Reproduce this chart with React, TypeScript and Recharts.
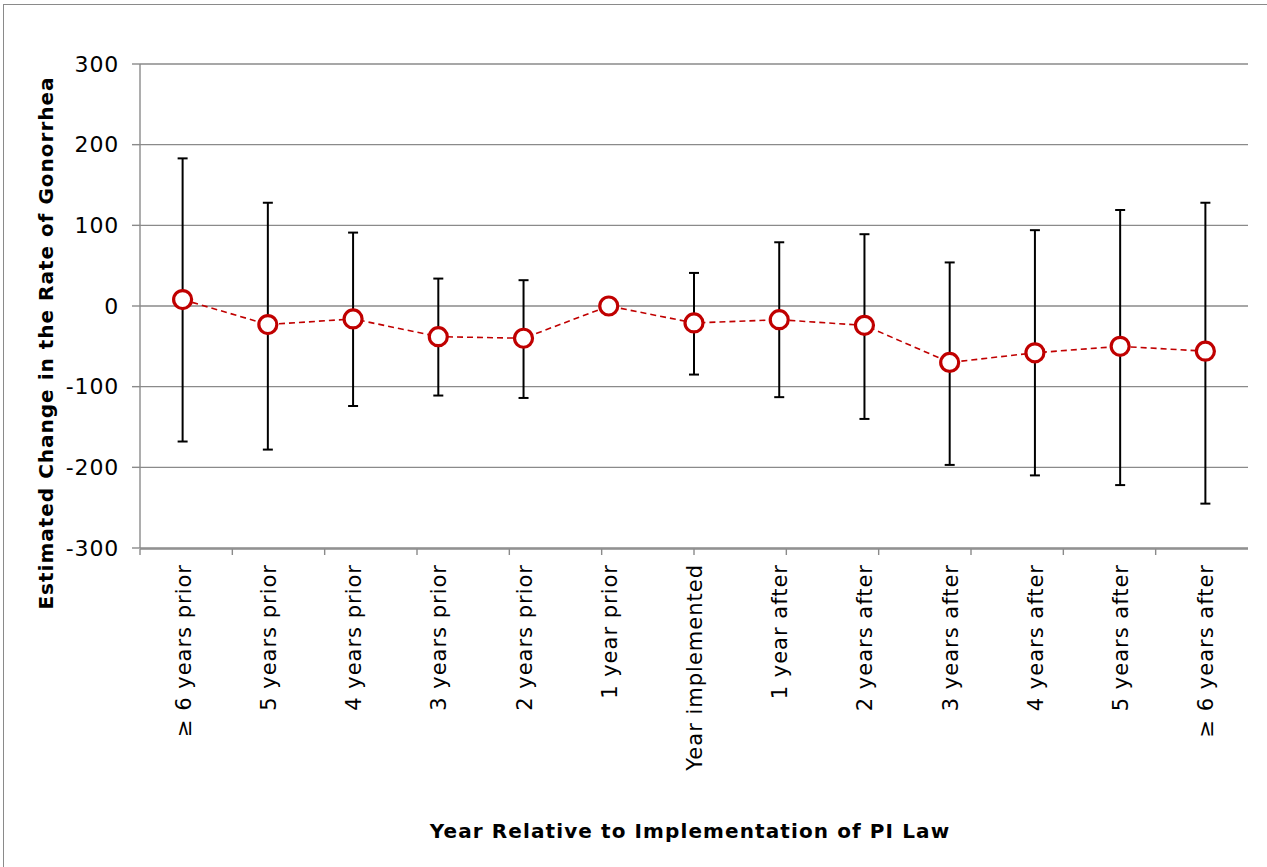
import React from 'react'
import { LineChart, Line, XAxis, YAxis, CartesianGrid, ErrorBar } from 'recharts'

const LABELS = [
  '≥ 6 years prior', '5 years prior', '4 years prior', '3 years prior', '2 years prior',
  '1 year prior', 'Year implemented', '1 year after', '2 years after', '3 years after',
  '4 years after', '5 years after', '≥ 6 years after',
]
const ESTIMATES = [8, -23, -16, -38, -40, 0, -21, -17, -24, -70, -58, -50, -56]
const LOWER = [-168, -178, -124, -111, -114, null, -85, -113, -140, -197, -210, -222, -245]
const UPPER = [183, 128, 91, 34, 32, null, 41, 79, 89, 54, 94, 119, 128]
const Y_TICKS = [-300, -200, -100, 0, 100, 200, 300]
const EDGES = [0, 1, 2, 3, 4, 5, 6, 7, 8, 9, 10, 11, 12, 13]

const FONT = '"DejaVu Sans", Verdana, sans-serif'
const RED = '#C00000'
const GRAY = '#8a8a8a'

const rows = LABELS.map((label, i) => {
  const lo = LOWER[i]
  const hi = UPPER[i]
  return {
    label,
    est: ESTIMATES[i],
    // asymmetric error: [below, above]
    err: lo == null || hi == null ? null : [ESTIMATES[i] - lo, hi - ESTIMATES[i]],
  }
})

function XTick({ x, y, payload }: any) {
  return (
    <text
      x={x}
      y={y}
      dy={8}
      transform={`rotate(-90 ${x} ${y})`}
      textAnchor="end"
      fontFamily={FONT}
      fontSize={21}
      letterSpacing={1}
      fill="#000"
    >
      {payload.value}
    </text>
  )
}

export default function App() {
  return (
    <div style={{ position: 'absolute', left: 0, top: 0, width: 1267, height: 867, background: '#fff', overflow: 'hidden' }}>
      <div style={{ position: 'absolute', left: 3, top: 4, width: 1300, height: 900, border: `1.5px solid ${GRAY}` }} />
      <div style={{ position: 'absolute', left: 0, top: 0 }}>
        <LineChart width={1267} height={867} data={rows} margin={{ top: 64, right: 19, bottom: 317, left: 50 }}>
          <CartesianGrid vertical={false} stroke={GRAY} strokeWidth={1.4} />
          {/* boundary ticks between categories */}
          <XAxis
            xAxisId="edges"
            type="number"
            domain={[0, 13]}
            ticks={EDGES}
            tick={() => <g />}
            tickLine={{ stroke: GRAY, strokeWidth: 1.4 }}
            tickSize={6}
            height={1}
            stroke={GRAY}
            strokeWidth={1.4}
          />
          <XAxis
            dataKey="label"
            scale="band"
            interval={0}
            axisLine={false}
            tickLine={false}
            tickSize={6}
            tickMargin={10}
            height={1}
            tick={<XTick />}
            label={{
              content: () => (
                <text x={690} y={838} textAnchor="middle" fontFamily={FONT} fontSize={20} letterSpacing={1.1} fontWeight="bold" fill="#000">
                  Year Relative to Implementation of PI Law
                </text>
              ),
            }}
          />
          <YAxis
            domain={[-300, 300]}
            ticks={Y_TICKS}
            width={90}
            tickSize={8}
            tickMargin={13}
            stroke={GRAY}
            strokeWidth={1.4}
            tick={{ fontFamily: FONT, fontSize: 22, fill: '#000', letterSpacing: 0.8 }}
            label={{
              content: () => (
                <text
                  x={46}
                  y={343}
                  transform="rotate(-90 46 343)"
                  textAnchor="middle"
                  dominantBaseline="central"
                  fontFamily={FONT}
                  fontSize={20}
                  letterSpacing={1}
                  fontWeight="bold"
                  fill="#000"
                >
                  Estimated Change in the Rate of Gonorrhea
                </text>
              ),
            }}
          />
          <Line dataKey="est" stroke="none" dot={false} activeDot={false} isAnimationActive={false}>
            <ErrorBar dataKey="err" direction="y" width={5} stroke="#000" strokeWidth={2} />
          </Line>
          <Line
            dataKey="est"
            type="linear"
            stroke={RED}
            strokeWidth={1.6}
            strokeDasharray="6 4"
            dot={{ r: 9, stroke: RED, strokeWidth: 3.2, fill: '#fff', strokeDasharray: '' }}
            activeDot={false}
            isAnimationActive={false}
          />
        </LineChart>
      </div>
    </div>
  )
}
